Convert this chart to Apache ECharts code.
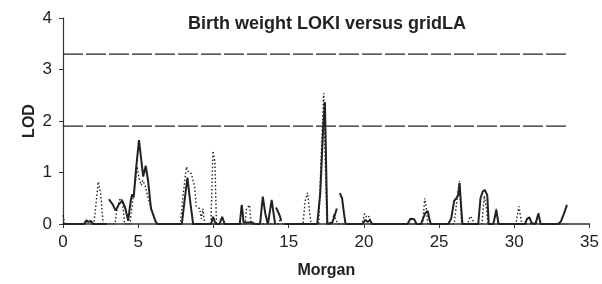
<!DOCTYPE html>
<html>
<head>
<meta charset="utf-8">
<script src="https://cdn.jsdelivr.net/npm/echarts@6/dist/echarts.min.js"></script>
<style>
  html, body { margin: 0; padding: 0; background: #fff; }
  #chart { width: 602px; height: 284px; }
</style>
</head>
<body>
<div id="chart"></div>
<script>
  // LOKI (solid line); null = gap in the curve
  var lokiMorgan = [0, 1.4, 1.55, 1.7, 1.85, 2.0, 2.9, 2.95,
    3.05, 3.3, 3.5, 3.75, 3.95, 4.15, 4.33, 4.5, 4.6, 4.7, 4.85, 5.05, 5.2, 5.33, 5.5, 5.65, 5.85, 6.0, 6.15, 6.28,
    7.9, 8.1, 8.27, 8.45, 8.65, 9.85, 9.97, 10.15, 10.4, 10.58, 10.75,
    11.75, 11.88, 11.95, 12.0, 12.6, 12.75, 13.1, 13.28, 13.45, 13.62, 13.87, 14.0, 14.1, 14.13,
    14.16, 14.35, 14.5, 14.55,
    14.7, 16.9, 17.1, 17.3, 17.41, 17.5, 17.57, 17.9, 18.05, 18.2, 18.3,
    18.4, 18.55, 18.68, 18.78, 19.9, 20.1, 20.25, 20.4, 20.55,
    22.9, 23.1, 23.35, 23.5, 23.8, 23.95, 24.1, 24.25, 24.35, 24.45,
    25.6, 25.8, 26.0, 26.15, 26.27, 26.36, 26.45, 26.55,
    27.6, 27.75, 27.9, 28.04, 28.2, 28.3, 28.6, 28.8, 28.95,
    30.7, 30.85, 31.0, 31.15, 31.4, 31.6, 31.75, 32.9, 33.1, 33.3, 33.5];
  var lokiLod = [0, 0, 0.07, 0.04, 0.06, 0, 0, null,
    0.48, 0.38, 0.26, 0.4, 0.45, 0.3, 0.06, 0.45, 0.58, 0.52, 1.05, 1.63, 1.25, 0.92, 1.13, 0.85, 0.3, 0.18, 0.05, 0,
    0, 0.5, 0.9, 0.45, 0, 0, 0.14, 0, 0, 0.14, 0,
    0, 0.37, 0.2, 0.03, 0.03, 0, 0, 0.53, 0.2, 0, 0.47, 0.2, 0, null,
    0.32, 0.2, 0.08, null,
    0, 0, 0.6, 1.9, 2.37, 1.0, 0, 0.03, 0.15, 0.3, null,
    0.6, 0.5, 0.2, 0, 0, 0.08, 0.04, 0.08, 0,
    0, 0.1, 0.09, 0, 0, 0.12, 0.22, 0.25, 0.1, 0,
    0, 0.1, 0.45, 0.5, 0.56, 0.8, 0.4, 0,
    0, 0.5, 0.63, 0.66, 0.56, 0, 0, 0.27, 0,
    0, 0.1, 0.13, 0.02, 0, 0.2, 0, 0, 0.05, 0.2, 0.37];

  // gridLA (dotted line)
  var gridMorgan = [0, 0.12, 1.45, 1.6, 1.75, 1.9, 2.05, 2.2, 2.34, 2.5, 2.67,
    3.45, 3.6, 3.8, 3.95, 4.1, 4.45, 4.65, 4.8, 4.93, 5.05, 5.2, 5.3, 5.45, 5.66, 5.9, 6.2,
    7.8, 8.0, 8.2, 8.35, 8.53, 8.75, 8.86, 9.08, 9.2, 9.3, 9.41, 9.83, 9.97, 10.1, 10.2,
    12.1, 12.2, 12.4, 12.5, 14.3, 14.45, 14.6, 15.95, 16.1, 16.26, 16.4, 16.5,
    17.0, 17.15, 17.33, 17.45, 17.55, 17.9, 18.0, 18.1, 18.3,
    19.9, 20.05, 20.2, 20.35, 20.5, 23.9, 24.05, 24.15, 24.25,
    26.0, 26.2, 26.35, 26.5, 26.9, 27.05, 27.2, 27.35, 27.85, 28.0, 28.15, 28.25,
    28.65, 28.8, 28.95, 30.1, 30.3, 30.5, 31.45, 31.6, 31.75, 33.5];
  var gridLod = [0.17, 0, 0, 0.06, 0.02, 0.05, 0, 0.4, 0.82, 0.6, 0,
    0, 0.3, 0.5, 0.45, 0, 0, 0.5, 0.8, 1.11, 0.9, 0.75, 0.85, 0.75, 0.5, 0.27, 0,
    0, 0.6, 1.11, 1.0, 0.98, 0.72, 0.34, 0.3, 0.1, 0.3, 0, 0, 1.42, 1.2, 0,
    0, 0.3, 0.37, 0, 0, 0.1, 0, 0, 0.45, 0.61, 0.2, 0,
    0, 1.2, 2.54, 1.0, 0, 0, 0.2, 0.1, 0,
    0, 0.2, 0.12, 0.15, 0, 0, 0.5, 0.3, 0,
    0, 0.5, 0.84, 0, 0, 0.15, 0.1, 0, 0, 0.55, 0.3, 0,
    0, 0.3, 0, 0, 0.34, 0, 0, 0.22, 0, 0];

  // significance thresholds, drawn across the mapped range
  var thresholds = [3.3, 1.9];
  var thresholdSpan = [0, 33.5];

  function zip(xs, ys) {
    return xs.map(function (x, i) { return [x, ys[i]]; });
  }

  var series = [];
  thresholds.forEach(function (t) {
    series.push({
      type: 'line',
      data: thresholdSpan.map(function (x) { return [x, t]; }),
      symbol: 'none',
      silent: true,
      lineStyle: { color: '#222', width: 1.2, type: [20, 3] }
    });
  });
  series.push({
    name: 'gridLA',
    type: 'line',
    data: zip(gridMorgan, gridLod),
    symbol: 'none',
    lineStyle: { color: '#222', width: 1.4, type: [1.5, 2.2] }
  });
  series.push({
    name: 'LOKI',
    type: 'line',
    data: zip(lokiMorgan, lokiLod),
    symbol: 'none',
    connectNulls: false,
    lineStyle: { color: '#222', width: 2 }
  });

  var myChart = echarts.init(document.getElementById('chart'));
  myChart.setOption({
    animation: false,
    textStyle: { fontFamily: 'Liberation Sans, Arial, sans-serif' },
    title: {
      text: 'Birth weight LOKI versus gridLA',
      left: 183,
      top: 10,
      textStyle: { fontSize: 18, fontWeight: 'bold', color: '#222' }
    },
    grid: { left: 63, right: 11, top: 18, bottom: 60 },
    xAxis: {
      type: 'value',
      min: 0,
      max: 35,
      interval: 5,
      name: 'Morgan',
      nameLocation: 'middle',
      nameGap: 39,
      nameMoveOverlap: false,
      nameTextStyle: { fontSize: 16, fontWeight: 'bold', color: '#222' },
      axisLine: { lineStyle: { color: '#333', width: 1.5 } },
      axisTick: { length: 4, lineStyle: { color: '#333' } },
      axisLabel: { fontSize: 17, color: '#222', margin: 10 },
      splitLine: { show: false }
    },
    yAxis: {
      type: 'value',
      min: 0,
      max: 4,
      interval: 1,
      name: 'LOD',
      nameLocation: 'middle',
      nameGap: 25,
      nameMoveOverlap: false,
      nameTextStyle: { fontSize: 16, fontWeight: 'bold', color: '#222' },
      axisLine: { show: true, lineStyle: { color: '#333', width: 1.2 } },
      axisTick: { show: true, length: 4, lineStyle: { color: '#333' } },
      axisLabel: { fontSize: 17, color: '#222', margin: 11 },
      splitLine: { show: false }
    },
    series: series
  });
</script>
</body>
</html>
